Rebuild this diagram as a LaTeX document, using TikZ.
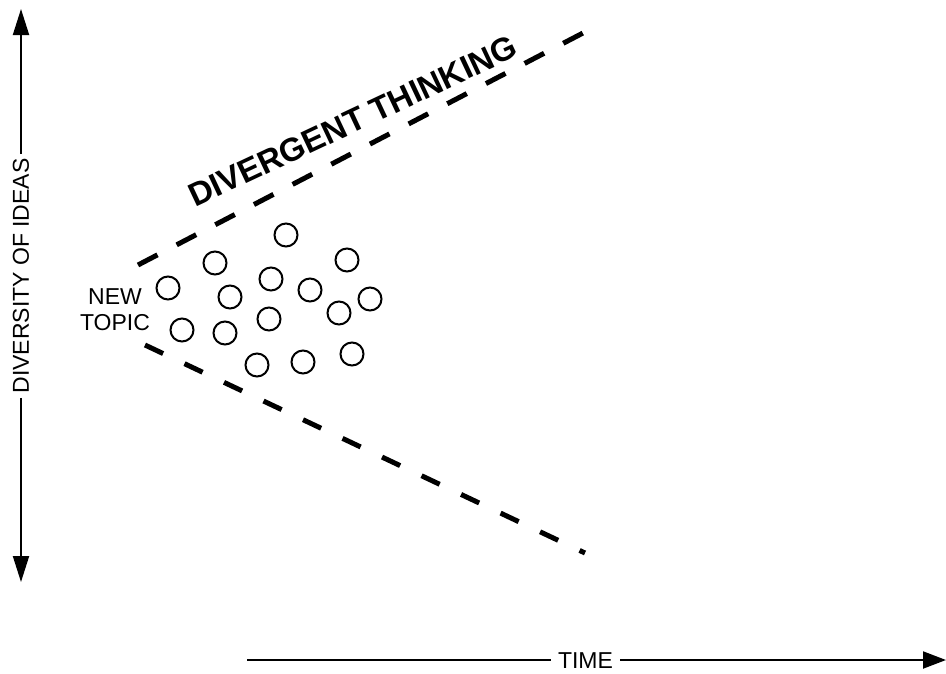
\documentclass[tikz,border=0pt]{standalone}
\usepackage{fontspec}
\setmainfont{Liberation Sans}
\usetikzlibrary{arrows.meta}
\begin{document}
\begin{tikzpicture}[x=1pt,y=-1pt,
  lbl/.style={inner sep=0pt, font=\fontsize{23}{26}\selectfont},
  idea/.style={circle, draw, line width=2pt, minimum size=23pt, inner sep=0pt},
  axis/.style={line width=2pt},
  bound/.style={line width=5pt}]
\useasboundingbox (0,0) rectangle (946,673);

% vertical axis
\node[lbl, rotate=90, inner sep=4pt] (div) at (21,276) {DIVERSITY OF IDEAS};
\coordinate (vtop) at (21,9);
\coordinate (vbot) at (21,582);
\draw[axis, -{Triangle[length=26pt,width=16pt]}] (div.east) -- (vtop);
\draw[axis, -{Triangle[length=26pt,width=16pt]}] (div.west) -- (vbot);

% horizontal axis
\node[lbl, inner sep=0pt] (time) at (585.5,660.5) {TIME};
\coordinate (hleft) at (247,660);
\coordinate (hright) at (946,660);
\draw[axis] (hleft) -- ([xshift=-7pt]time.west |- hleft);
\draw[axis, -{Triangle[length=23pt,width=17pt]}] ([xshift=7pt]time.east |- hleft) -- (hright);

% new topic
\node[lbl, align=center] (topic) at (115,310) {NEW\\TOPIC};

% divergent thinking label
\node[inner sep=0pt, anchor=base west, rotate=25.2,
      font=\fontsize{32.8}{36}\selectfont\bfseries] (dt) at (195,208) {DIVERGENT THINKING};

% dashed boundaries
\coordinate (u0) at (138,265);
\coordinate (u1) at (583,33);
\coordinate (l0) at (145,345);
\coordinate (l1) at (585,553);
\draw[bound, dash pattern=on 22pt off 21.6pt] (u0) -- (u1);
\draw[bound, dash pattern=on 20pt off 23.7pt] (l0) -- (l1);

% ideas
\node[idea] (c1) at (168,288) {};
\node[idea] (c2) at (182,330) {};
\node[idea] (c3) at (215,263) {};
\node[idea] (c4) at (230,297) {};
\node[idea] (c5) at (225,333) {};
\node[idea] (c6) at (286,235) {};
\node[idea] (c7) at (271,279) {};
\node[idea] (c8) at (269,319) {};
\node[idea] (c9) at (257,365) {};
\node[idea] (c10) at (310,290) {};
\node[idea] (c11) at (347,260) {};
\node[idea] (c12) at (370,299) {};
\node[idea] (c13) at (339,313) {};
\node[idea] (c14) at (303,362) {};
\node[idea] (c15) at (352,354) {};
\end{tikzpicture}
\end{document}
